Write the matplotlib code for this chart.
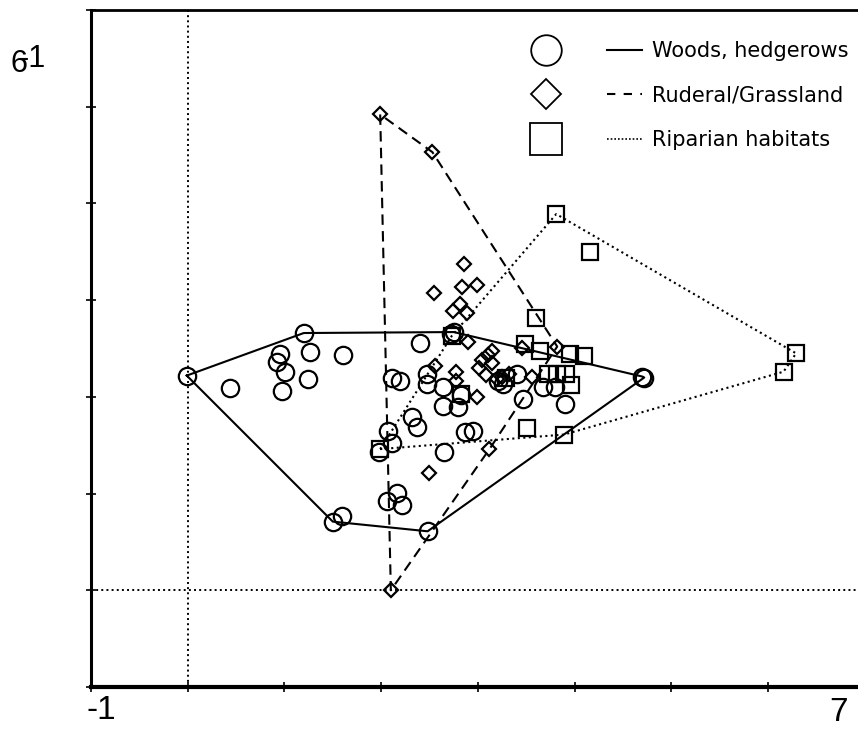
import numpy as np
import matplotlib
matplotlib.use('Agg')
import matplotlib.pyplot as plt
from matplotlib.lines import Line2D
from matplotlib.legend_handler import HandlerTuple

# Woods, hedgerows (circles)
woods_x = [-0.01, 0.44, 1.20, 0.95, 0.92, 1.01, 0.97, 1.26, 1.24, 1.61, 2.40, 2.11, 2.19,
           2.47, 2.47, 2.64, 2.64, 2.79, 2.32, 2.37, 2.87, 2.95, 2.07, 2.11, 1.98, 2.65,
           2.16, 2.06, 2.22, 1.50, 1.59, 2.48, 2.72, 2.75, 2.83, 3.21, 3.26, 3.40, 3.67,
           3.80, 3.47, 3.90, 4.70, 4.72]
woods_y = [2.22, 2.09, 2.66, 2.44, 2.36, 2.26, 2.06, 2.46, 2.18, 2.43, 2.56, 2.20, 2.16,
           2.24, 2.13, 2.10, 1.91, 1.90, 1.79, 1.69, 1.64, 1.65, 1.65, 1.52, 1.43, 1.43,
           1.01, 0.92, 0.88, 0.71, 0.77, 0.61, 2.65, 2.67, 2.02, 2.16, 2.13, 2.24, 2.10,
           2.10, 1.98, 1.93, 2.21, 2.20]

# Ruderal/Grassland (diamonds)
rud_x = [1.99, 2.53, 2.86, 2.55, 2.84, 2.99, 2.81, 2.74, 2.89, 2.90, 2.56, 2.77, 2.77,
         2.99, 3.15, 3.10, 3.04, 3.01, 3.08, 3.15, 3.20, 3.25, 3.32, 3.46, 3.56, 3.82,
         3.12, 2.49, 2.10]
rud_y = [4.92, 4.53, 3.37, 3.07, 3.14, 3.16, 2.96, 2.89, 2.87, 2.57, 2.32, 2.26, 2.16,
         2.00, 2.47, 2.43, 2.38, 2.30, 2.23, 2.35, 2.18, 2.21, 2.24, 2.50, 2.21, 2.52,
         1.46, 1.21, 0.00]

# Riparian habitats (squares)
rip_x = [3.81, 4.16, 3.60, 3.49, 3.64, 3.95, 4.10, 3.72, 3.82, 3.91, 3.96, 3.29, 3.51,
         3.89, 1.99, 2.73, 2.83, 6.29, 6.16]
rip_y = [3.89, 3.50, 2.82, 2.55, 2.47, 2.44, 2.42, 2.24, 2.24, 2.24, 2.12, 2.20, 1.68,
         1.61, 1.46, 2.63, 2.03, 2.45, 2.26]

labels = ['Woods, hedgerows', 'Ruderal/Grassland', 'Riparian habitats']


def hull(xs, ys):
    # convex hull (monotone chain), returned closed
    pts = sorted(set(zip(xs, ys)))

    def cross(o, a, b):
        return (a[0] - o[0]) * (b[1] - o[1]) - (a[1] - o[1]) * (b[0] - o[0])

    lower, upper = [], []
    for p in pts:
        while len(lower) >= 2 and cross(lower[-2], lower[-1], p) <= 0:
            lower.pop()
        lower.append(p)
    for p in reversed(pts):
        while len(upper) >= 2 and cross(upper[-2], upper[-1], p) <= 0:
            upper.pop()
        upper.append(p)
    h = lower[:-1] + upper[:-1]
    h.append(h[0])
    return np.array(h)


fig = plt.figure(figsize=(8.58, 7.29), dpi=100)
ax = fig.add_axes([91 / 858, 42 / 729, 767 / 858, 677 / 729])

ax.axvline(0, color='black', ls=':', lw=1.4)
ax.axhline(0, color='black', ls=':', lw=1.4)

groups = [(woods_x, woods_y, 'o', 12.5, '-'),
          (rud_x, rud_y, 'D', 7.5, (0, (5, 3))),
          (rip_x, rip_y, 's', 12, ':')]
for xs, ys, mk, ms, ls in groups:
    h = hull(xs, ys)
    ax.plot(h[:, 0], h[:, 1], color='black', ls=ls, lw=1.5)
    ax.plot(xs, ys, ls='none', marker=mk, ms=ms, mfc='none', mec='black', mew=1.6)

ax.set_xlim(-1, 6.93)
ax.set_ylim(-1, 6)
ax.set_xticks(range(-1, 7))
ax.set_xticklabels([])
ax.set_yticks(range(-1, 7))
ax.set_yticklabels([])
ax.tick_params(direction='inout', length=7, width=1.2)

# axis end labels
xf = ax.get_xaxis_transform()
ax.annotate('-1', xy=(-1, 0), xycoords=xf, xytext=(-3, -6), textcoords='offset points',
            ha='left', va='top', fontsize=24, family='Liberation Sans')
ax.text(0.986, -0.015, '7', transform=ax.transAxes, ha='right', va='top',
        fontsize=24, family='Liberation Sans')

# y end labels sit together at the top left
fig.text(10 / 858, 1 - 72 / 729, '6', fontsize=22, family='Liberation Sans')
fig.text(19 / 858, 1 - 67 / 729, '-1', fontsize=22, family='Liberation Sans')

ax.spines['right'].set_visible(False)
ax.spines['left'].set_linewidth(2.2)
ax.spines['bottom'].set_linewidth(3)
ax.spines['top'].set_linewidth(2)

handles = [(Line2D([], [], ls='none', marker='o', ms=22, mfc='none', mec='black', mew=1.3),
            Line2D([], [], color='black', ls='-', lw=1.5)),
           (Line2D([], [], ls='none', marker='D', ms=15, mfc='none', mec='black', mew=1.3),
            Line2D([], [], color='black', ls=(0, (4, 4)), lw=1.5)),
           (Line2D([], [], ls='none', marker='s', ms=23, mfc='none', mec='black', mew=1.3),
            Line2D([], [], color='black', ls=(0, (1, 1.2)), lw=1.2))]
ax.legend(handles, labels, handler_map={tuple: HandlerTuple(ndivide=None, pad=2.07)},
          loc='upper right', bbox_to_anchor=(1.012, 0.982), frameon=False,
          fontsize=15, handlelength=5.43, handletextpad=0.48, labelspacing=1.18)

fig.savefig('out.png', dpi=100)
